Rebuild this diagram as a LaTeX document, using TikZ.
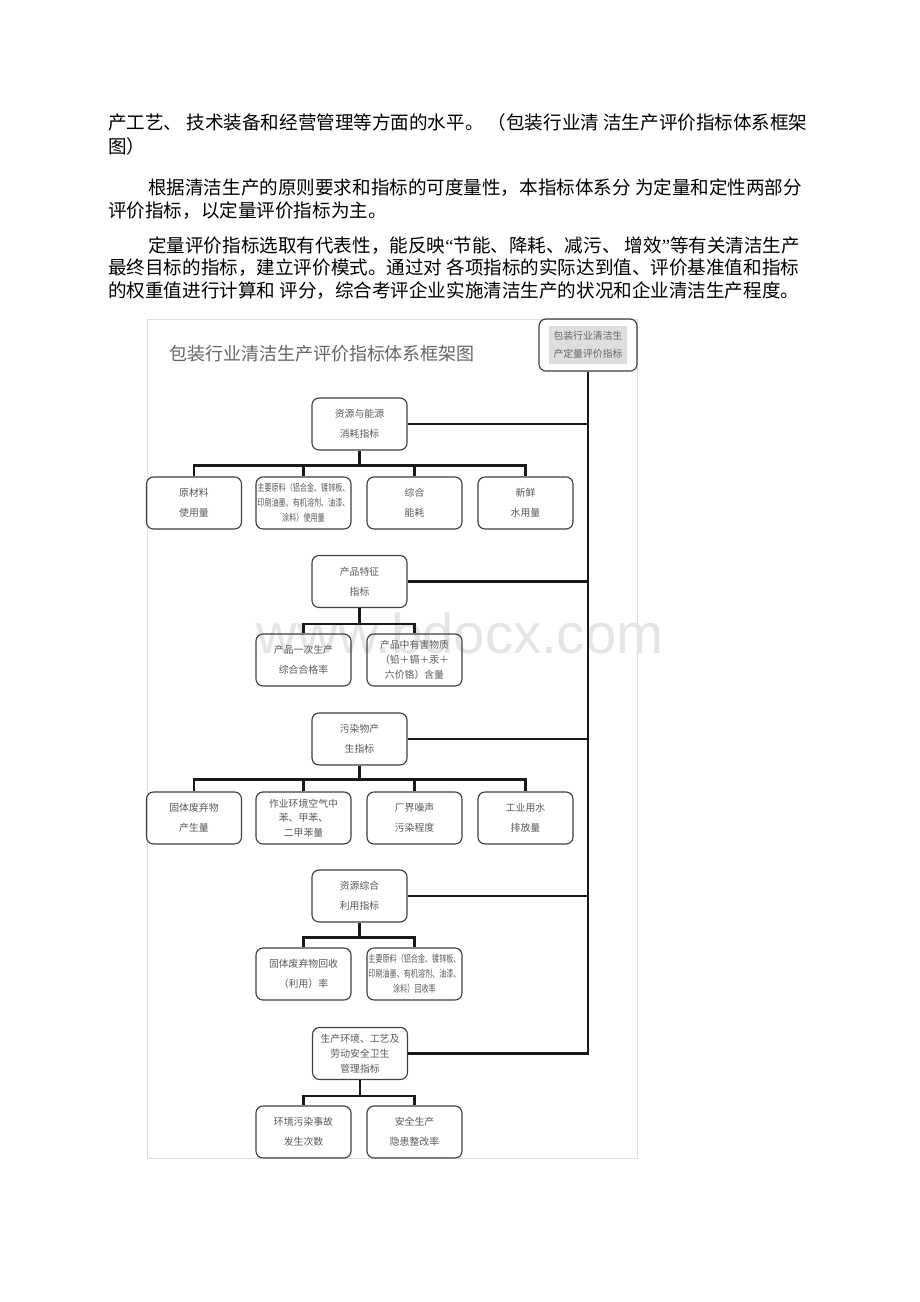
\documentclass[tikz,border=0pt]{standalone}
\usepackage{fontspec}
\setmainfont{Noto Sans CJK SC}
\newfontfamily\narrowcjk[FakeStretch=0.72]{Noto Sans CJK SC}
\newfontfamily\markfont{Liberation Sans}
\newfontfamily\quotefont{Liberation Serif}
\usetikzlibrary{positioning}

\begin{document}
\begin{tikzpicture}[x=0.025cm, y=-0.025cm,
  box/.style={draw=black!75, line width=0.8pt, rounded corners=5pt, minimum width=2.375cm, minimum height=1.3cm, align=center, inner sep=1pt, text=black!65, font=\fontsize{7}{14}\selectfont},
  tightbox/.style={box, font=\fontsize{7}{10.5}\selectfont},
  narrowbox/.style={box, font=\narrowcjk\fontsize{7}{10.5}\selectfont},
  link/.style={line width=2pt, black!90},
  para/.style={anchor=west, inner sep=0pt, font=\fontsize{13.2}{16}\selectfont}]

\useasboundingbox (0,0) rectangle (920,1302);
\fill[white] (0,0) rectangle (920,1302);

% text above the figure
\node[para] (p1a) at (108,122) {产工艺、 技术装备和经营管理等方面的水平。 （包装行业清 洁生产评价指标体系框架};
\node[para] (p1b) at (108,146) {图）};
\node[para] (p2a) at (148,188) {根据清洁生产的原则要求和指标的可度量性，本指标体系分 为定量和定性两部分};
\node[para] (p2b) at (108,211) {评价指标，以定量评价指标为主。};
\node[para] (p3a) at (148,246) {定量评价指标选取有代表性，能反映{\quotefont“}节能、降耗、减污、 增效{\quotefont”}等有关清洁生产};
\node[para] (p3b) at (108,268) {最终目标的指标，建立评价模式。通过对 各项指标的实际达到值、评价基准值和指标};
\node[para] (p3c) at (108,291) {的权重值进行计算和 评分，综合考评企业实施清洁生产的状况和企业清洁生产程度。};

% figure frame and watermark
\draw[black!12, line width=0.6pt] (147,319) rectangle (637,1158);
\node[font=\markfont\fontsize{40}{40}\selectfont, text=black!10] (mark) at (460,633) {www.bdocx.com};
\node[font=\fontsize{12.8}{14}\selectfont, text=black!60] (title) at (322,354) {包装行业清洁生产评价指标体系框架图};

\node[box, minimum width=2.45cm] (top) at (588,345) {};
\node[fill=black!13, inner sep=1pt, minimum width=1.95cm, minimum height=0.95cm, align=center, text=black!60, font=\fontsize{7}{13}\selectfont] (toplbl) at (top) {包装行业清洁生\\产定量评价指标};

% resources and energy
\node[box] (res) at (359.5,424) {资源与能源\\消耗指标};
\node[box] (res1) at (194,503) {原材料\\使用量};
\node[narrowbox] (res2) at (303.5,503) {主要原料（铝合金、镀锌板、\\印刷油墨、有机溶剂、油漆、\\涂料）使用量};
\node[box] (res3) at (414.5,503) {综合\\能耗};
\node[box] (res4) at (525.5,503) {新鲜\\水用量};

% product
\node[box] (prd) at (359.5,581.5) {产品特征\\指标};
\node[box] (prd1) at (303.5,660) {产品一次生产\\综合合格率};
\node[tightbox] (prd2) at (414.5,660) {产品中有害物质\\（铅＋镉＋汞＋\\六价铬）含量};

% pollutants
\node[box] (pol) at (359.5,739) {污染物产\\生指标};
\node[box] (pol1) at (194,818) {固体废弃物\\产生量};
\node[tightbox] (pol2) at (303.5,818) {作业环境空气中\\苯、甲苯、\\二甲苯量};
\node[box] (pol3) at (414.5,818) {厂界噪声\\污染程度};
\node[box] (pol4) at (525.5,818) {工业用水\\排放量};

% recycling
\node[box] (rec) at (359.5,896) {资源综合\\利用指标};
\node[box] (rec1) at (303.5,974) {固体废弃物回收\\（利用）率};
\node[narrowbox] (rec2) at (414.5,974) {主要原料（铝合金、镀锌板、\\印刷油墨、有机溶剂、油漆、\\涂料）回收率};

% environment and safety
\node[tightbox] (env) at (360,1053.5) {生产环境、工艺及\\劳动安全卫生\\管理指标};
\node[box] (env1) at (303.5,1132) {环境污染事故\\发生次数};
\node[box] (env2) at (414.5,1132) {安全生产\\隐患整改率};

% trunk and branches
\draw[link] (top.south) -- (top.south |- env.east) -- (env.east);
\foreach \g in {res,prd,pol,rec}
  \draw[link] (\g.east) -- (\g.east -| top.south);

\draw[link] (res.south) -- ++(0,15) coordinate (resbar);
\foreach \c in {res1,res2,res3,res4}
  \draw[link] (\c.north) |- (resbar);
\draw[link] (prd.south) -- ++(0,16) coordinate (prdbar);
\foreach \c in {prd1,prd2}
  \draw[link] (\c.north) |- (prdbar);
\draw[link] (pol.south) -- ++(0,14) coordinate (polbar);
\foreach \c in {pol1,pol2,pol3,pol4}
  \draw[link] (\c.north) |- (polbar);
\draw[link] (rec.south) -- ++(0,15) coordinate (recbar);
\foreach \c in {rec1,rec2}
  \draw[link] (\c.north) |- (recbar);
\draw[link] (env.south) -- ++(0,16) coordinate (envbar);
\foreach \c in {env1,env2}
  \draw[link] (\c.north) |- (envbar);
\end{tikzpicture}
\end{document}
